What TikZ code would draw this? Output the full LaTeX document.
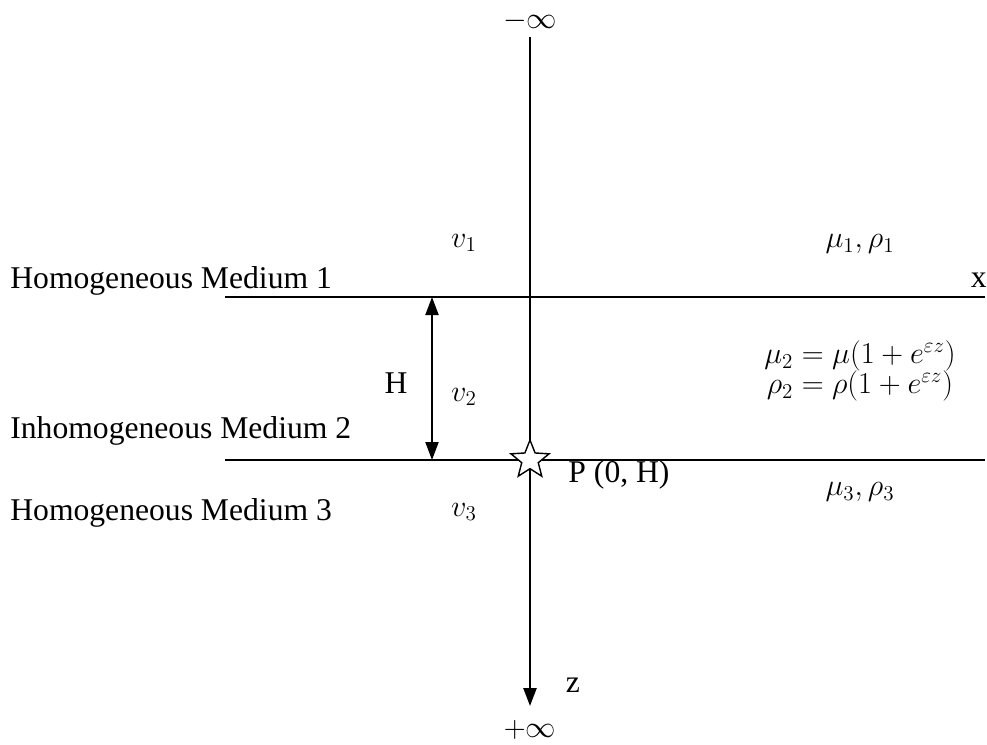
\documentclass[tikz,border=0pt]{standalone}
\usepackage{fontspec}
\setmainfont{Liberation Serif}
\usetikzlibrary{arrows.meta,shapes.geometric}
\tikzset{>={Triangle[length=3.6mm,width=2.6mm]}}
\tikzset{
  txt/.style = {font=\fontsize{18}{21}\selectfont, inner sep=0pt},
  layer/.style = {line width=1.1pt},
  source/.style = {star, star points=5, star point ratio=2.3,
    minimum size=0.8cm, inner sep=0pt, draw, line width=0.8pt, fill=white}
}

\begin{document}
\begin{tikzpicture}
  \useasboundingbox (0,0) rectangle (19.74,-14.88);
  % depth axis
  \coordinate (top) at (10.6,-0.74);
  \coordinate (bot) at (10.6,-14.12);
  \node[txt] (minf) at (10.6,-0.42) {$-\infty$};
  \node[txt] (pinf) at (10.6,-14.6) {$+\infty$};
  \draw[line width=1.4pt,->] (top) -- (bot);
  \node[txt] (zlab) at (11.46,-13.7) {z};
  % interfaces
  \coordinate (l1) at (4.5,-5.94);  \coordinate (r1) at (19.7,-5.94);
  \coordinate (l2) at (4.5,-9.2);   \coordinate (r2) at (19.7,-9.2);
  \draw[layer] (l1) -- (r1);
  \draw[layer] (l2) -- (r2);
  \node[txt,anchor=east] (xlab) at (19.74,-5.6) {x};
  % layer thickness
  \coordinate (ha) at (8.64,-5.94);
  \coordinate (hb) at (8.64,-9.2);
  \draw[line width=1.2pt,<->] (ha) -- (hb);
  \node[txt] (hlab) at (7.92,-7.66) {H};
  % media names
  \node[txt,anchor=west] (med1) at (0.2,-5.62) {Homogeneous Medium 1};
  \node[txt,anchor=west] (med2) at (0.2,-8.62) {Inhomogeneous Medium 2};
  \node[txt,anchor=west] (med3) at (0.2,-10.26) {Homogeneous Medium 3};
  % velocities
  \foreach \N/\Y in {1/-4.86,2/-7.94,3/-10.24} {
    \node[txt] (v\N) at (9.28,\Y) {$v_{\N}$};
  }
  % parameters
  \node[txt] (par1) at (17.2,-4.88) {$\mu_1,\rho_1$};
  \node[txt] (par2) at (17.2,-7.12) {$\mu_2=\mu(1+e^{\varepsilon z})$};
  \node[txt] (par2b) at (17.2,-7.72) {$\rho_2=\rho(1+e^{\varepsilon z})$};
  \node[txt] (par3) at (17.2,-9.84) {$\mu_3,\rho_3$};
  % source point
  \node[source] (src) at (10.6,-9.2) {};
  \node[txt] (plab) at (12.38,-9.5) {P (0, H)};
\end{tikzpicture}
\end{document}
